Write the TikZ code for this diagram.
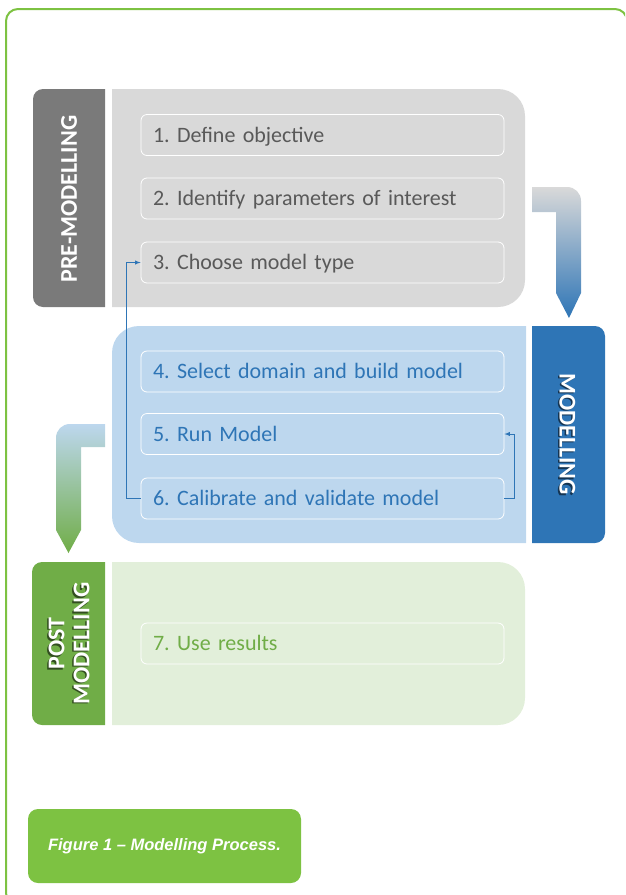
\documentclass[tikz,border=0pt]{standalone}
\usepackage{fontspec}
\setmainfont{Carlito}[WordSpace=0.8]
\newfontfamily\capfont{Liberation Sans}
\usepackage{tikz}
\frenchspacing

\definecolor{frameGreen}{HTML}{7DC242}
\definecolor{preDark}{HTML}{7A7A7A}
\definecolor{preLight}{HTML}{D9D9D9}
\definecolor{preText}{HTML}{595959}
\definecolor{modDark}{HTML}{2E75B6}
\definecolor{modLight}{HTML}{BDD7EE}
\definecolor{postDark}{HTML}{70AD47}
\definecolor{postLight}{HTML}{E2EFDA}

\begin{document}
\begin{tikzpicture}[x=1pt,y=-1pt]
            \tikzstyle{stepbox}=[rectangle,rounded corners=6pt,draw=white,line width=0.8pt,inner xsep=12pt,text width=339pt,minimum height=41pt,align=left,text height=14pt,text depth=0pt,font=\fontsize{22}{26}\selectfont]
            \tikzstyle{phase}=[text=white,align=center,inner sep=0pt,font=\bfseries\fontsize{24}{25}\selectfont]
            \tikzstyle{phaseshadow}=[phase,text=black,opacity=0.55]

            \useasboundingbox (0,0) rectangle (625,895);
            \clip (0,0) rectangle (625,895);
            \draw[frameGreen,line width=2pt,rounded corners=12pt] (6,9) rectangle (627,905);

            \fill[preDark] (105,89) -- (43,89) .. controls (37.5,89) and (33,93.5) .. (33,99) -- (33,297) .. controls (33,302.5) and (37.5,307) .. (43,307) -- (105,307) -- cycle;
            \fill[preLight] (112,89) -- (498,89) .. controls (513,89) and (525,101) .. (525,116) -- (525,280) .. controls (525,295) and (513,307) .. (498,307) -- (112,307) -- cycle;
            \shade[top color=preLight,middle color=preLight!72!modDark,bottom color=modDark] (532,187) -- (567,187) .. controls (575,187) and (581,193) .. (581,201) -- (581,293) -- (569,318) -- (556,293) -- (556,212) -- (532,212) -- cycle;

            \fill[modLight] (526,326) -- (139,326) .. controls (124,326) and (112,338) .. (112,353) -- (112,516) .. controls (112,531) and (124,543) .. (139,543) -- (526,543) -- cycle;
            \fill[modDark] (532,326) -- (595,326) .. controls (600.5,326) and (605,330.5) .. (605,336) -- (605,533) .. controls (605,538.5) and (600.5,543) .. (595,543) -- (532,543) -- cycle;
            \shade[top color=modLight,middle color=modLight!60!postDark,bottom color=postDark] (105,424) -- (70,424) .. controls (62,424) and (56,430) .. (56,438) -- (56,530) -- (68.5,553) -- (81,530) -- (81,447) -- (105,447) -- cycle;

            \fill[postDark] (105,562) -- (42,562) .. controls (36.5,562) and (32,566.5) .. (32,572) -- (32,715) .. controls (32,720.5) and (36.5,725) .. (42,725) -- (105,725) -- cycle;
            \fill[postLight] (112,562) -- (498,562) .. controls (513,562) and (525,574) .. (525,589) -- (525,698) .. controls (525,713) and (513,725) .. (498,725) -- (112,725) -- cycle;

            \node[phase,rotate=90] (L-pre) at (69,199) {PRE-MODELLING};
            \node[phaseshadow,rotate=-90] (L-mod-shadow) at (566,435.5) {MODELLING};
            \node[phase,rotate=-90] (L-mod) at (567.5,434) {MODELLING};
            \node[phaseshadow,rotate=90] (L-post-shadow) at (67.5,645) {POST\\MODELLING};
            \node[phase,rotate=90] (L-post) at (69,643.5) {POST\\MODELLING};

            \foreach \num/\y/\txt in {1/135/Define objective, 2/198.5/Identify parameters of interest, 3/262.5/Choose model type}
                    \node[stepbox,text=preText] (S-\num) at (322.5,\y) {\num. \txt};
            \foreach \num/\y/\txt in {4/371.5/Select domain and build model, 5/434/Run Model, 6/498.5/Calibrate and validate model}
                    \node[stepbox,text=modDark] (S-\num) at (322.5,\y) {\num. \txt};
            \foreach \num/\y/\txt in {7/643.5/Use results}
                    \node[stepbox,text=postDark] (S-\num) at (322.5,\y) {\num. \txt};

                \draw[modDark,line width=0.9pt,-latex] (S-6.west) -- ++(-14,0) |- (S-3.west);
                \draw[modDark,line width=0.9pt,-latex] (S-6.east) -- ++(10,0) |- (S-5.east);

            \node[rectangle,rounded corners=10pt,fill=frameGreen,minimum width=273pt,minimum height=74pt,text=white,font=\capfont\bfseries\itshape\fontsize{16.5}{20}\selectfont] (cap) at (164.5,846) {Figure 1 – Modelling Process.};
        \end{tikzpicture}
\end{document}
